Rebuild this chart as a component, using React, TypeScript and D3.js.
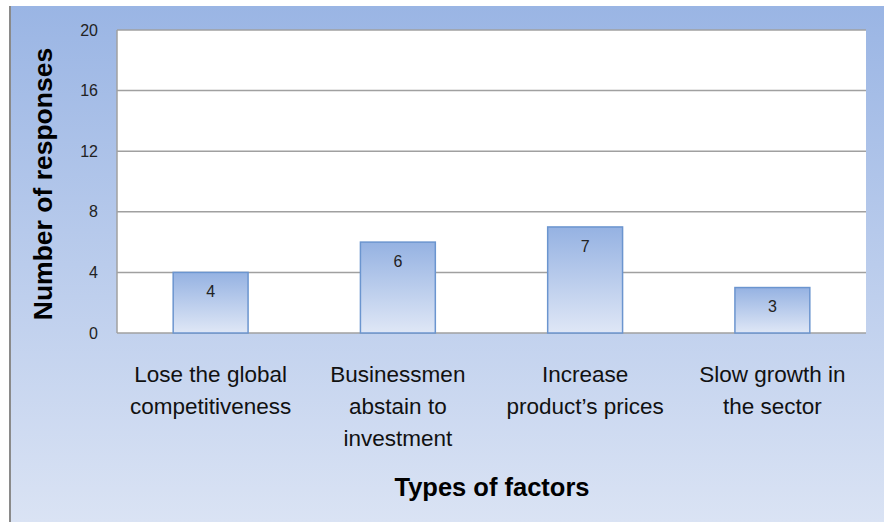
import React from "react";
import * as d3 from "d3";

const categories: string[][] = [
  ["Lose the global", "competitiveness"],
  ["Businessmen", "abstain to", "investment"],
  ["Increase", "product\u2019s prices"],
  ["Slow growth in", "the sector"],
];
const values: number[] = [4, 6, 7, 3];
const yTicks: number[] = [0, 4, 8, 12, 16, 20];

const W = 884;
const H = 522;
const plot = { left: 117, top: 30, right: 866, bottom: 333 };
const FONT = "'Liberation Sans', Arial, sans-serif";

export default function App() {
  const x = d3
    .scaleBand<number>()
    .domain(values.map((_, i) => i))
    .range([plot.left, plot.right])
    .paddingInner(0.6)
    .paddingOuter(0.3);
  const y = d3.scaleLinear().domain([0, 20]).range([plot.bottom, plot.top]);

  return (
    <svg
      width={W}
      height={H}
      style={{ position: "absolute", left: 0, top: 0, display: "block" }}
    >
      <defs>
        <linearGradient id="bg" x1="0" y1="0" x2="0" y2="1">
          <stop offset="0%" stopColor="#9ab5e4" />
          <stop offset="100%" stopColor="#dae3f4" />
        </linearGradient>
        <linearGradient id="bar" x1="0" y1="0" x2="0" y2="1">
          <stop offset="0%" stopColor="#95b2e2" />
          <stop offset="100%" stopColor="#dfe7f6" />
        </linearGradient>
      </defs>
      <rect x={0} y={0} width={W} height={H} fill="#ffffff" />
      <rect x={10} y={6} width={W - 10} height={H - 6} fill="url(#bg)" />
      <line x1={10} x2={10} y1={6} y2={H} stroke="#8a8a8a" strokeWidth={2} />
      <rect
        x={plot.left}
        y={plot.top}
        width={plot.right - plot.left}
        height={plot.bottom - plot.top}
        fill="#ffffff"
      />
      {yTicks.map((t) => (
        <line
          key={"g" + t}
          x1={plot.left}
          x2={plot.right}
          y1={y(t)}
          y2={y(t)}
          stroke="#a0a0a0"
          strokeWidth={1.5}
        />
      ))}
      <line
        x1={plot.left}
        x2={plot.left}
        y1={plot.top}
        y2={plot.bottom}
        stroke="#a0a0a0"
        strokeWidth={1.5}
      />
      {yTicks.map((t) => (
        <text
          key={"t" + t}
          x={98}
          y={y(t)}
          dy="0.35em"
          textAnchor="end"
          fontFamily={FONT}
          fontSize={16}
          fill="#222"
        >
          {t}
        </text>
      ))}
      {values.map((v, i) => (
        <g key={"b" + i}>
          <rect
            x={x(i)!}
            y={y(v)}
            width={x.bandwidth()}
            height={y(0) - y(v)}
            fill="url(#bar)"
            stroke="#6b95cf"
            strokeWidth={1.5}
          />
          <text
            x={x(i)! + x.bandwidth() / 2}
            y={y(v) + 19}
            dy="0.35em"
            textAnchor="middle"
            fontFamily={FONT}
            fontSize={16}
            fill="#222"
          >
            {v}
          </text>
        </g>
      ))}
      {categories.map((lines, i) => (
        <text
          key={"c" + i}
          textAnchor="middle"
          fontFamily={FONT}
          fontSize={22.5}
          fill="#111"
        >
          {lines.map((l, j) => (
            <tspan key={j} x={x(i)! + x.bandwidth() / 2} y={374 + j * 32} dy="0.35em">
              {l}
            </tspan>
          ))}
        </text>
      ))}
      <text
        x={492}
        y={487}
        dy="0.35em"
        textAnchor="middle"
        fontFamily={FONT}
        fontSize={25.5}
        fontWeight="bold"
        fill="#000"
      >
        Types of factors
      </text>
      <text
        transform={`translate(43,184) rotate(-90)`}
        dy="0.35em"
        textAnchor="middle"
        fontFamily={FONT}
        fontSize={26.5}
        fontWeight="bold"
        fill="#000"
      >
        Number of responses
      </text>
    </svg>
  );
}
